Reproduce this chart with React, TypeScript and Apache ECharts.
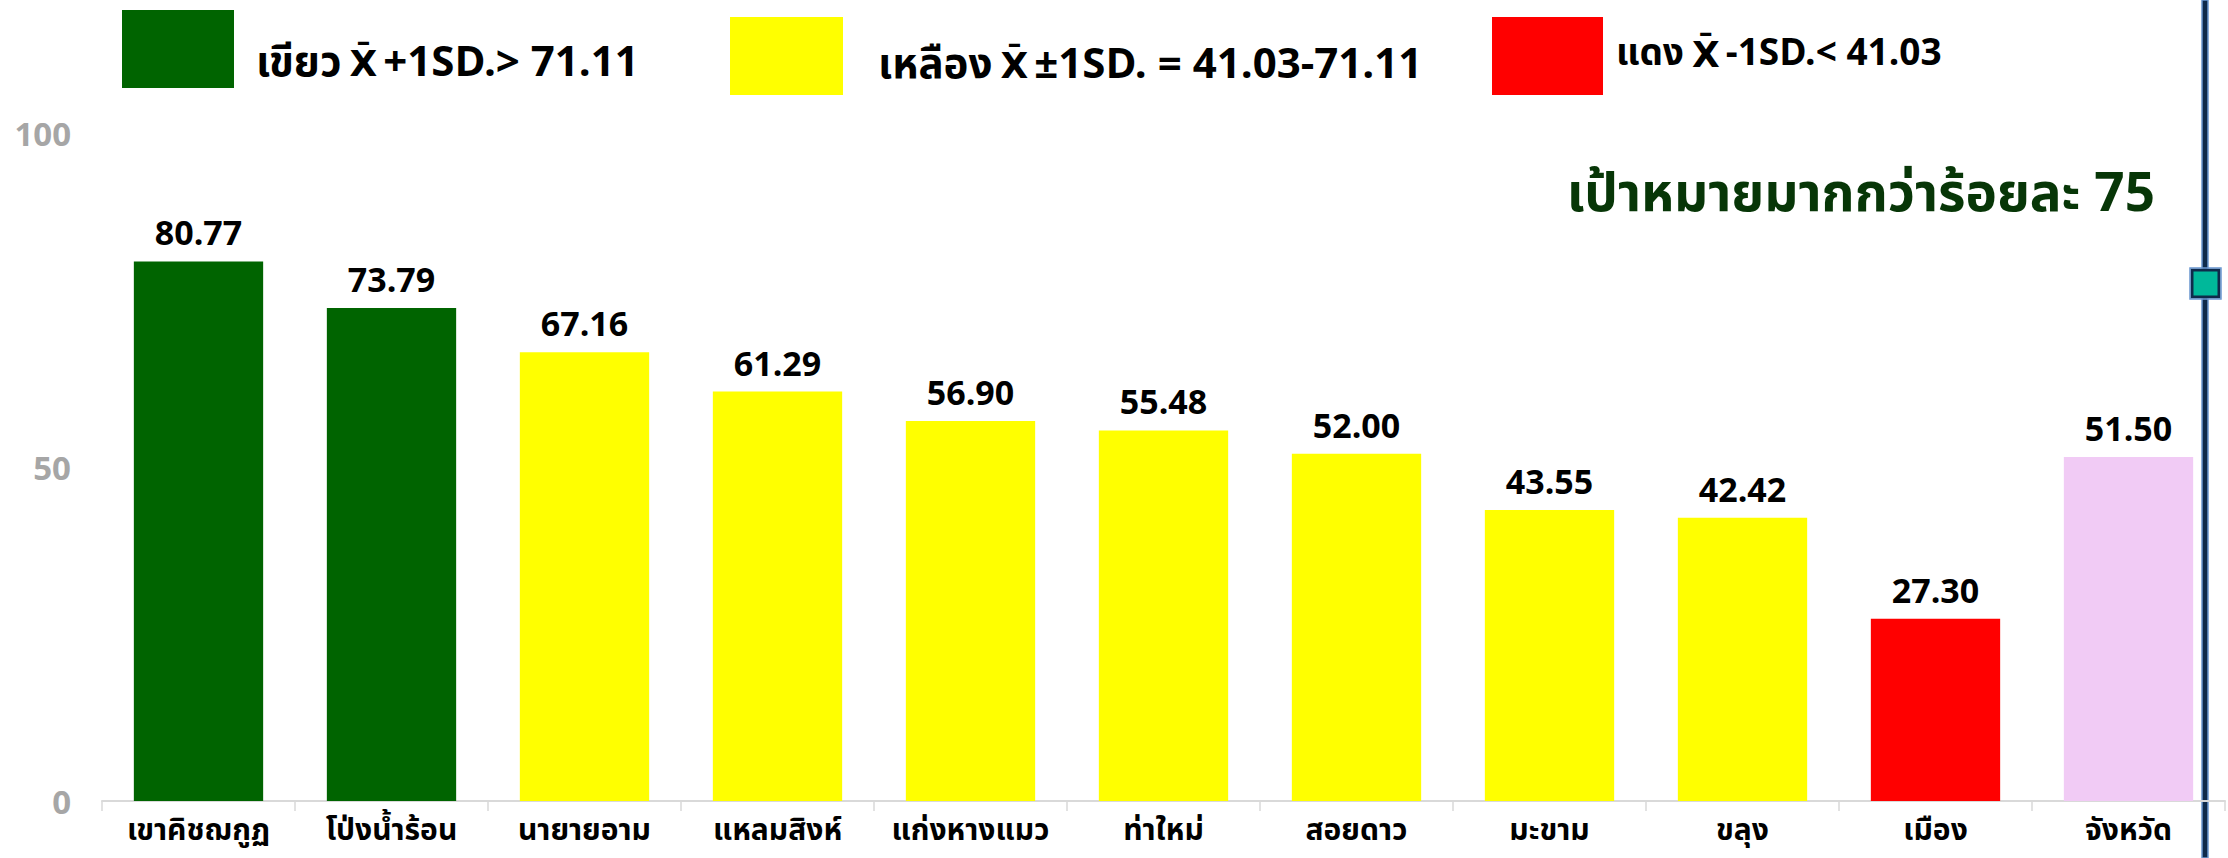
import React, { useEffect, useRef } from "react";
import * as echarts from "echarts";

const categories = ["เขาคิชฌกูฏ", "โป่งน้ำร้อน", "นายายอาม", "แหลมสิงห์", "แก่งหางแมว", "ท่าใหม่", "สอยดาว", "มะขาม", "ขลุง", "เมือง", "จังหวัด"];
const values = [80.77, 73.79, 67.16, 61.29, 56.9, 55.48, 52.0, 43.55, 42.42, 27.3, 51.5];
const levels = ["green", "green", "yellow", "yellow", "yellow", "yellow", "yellow", "yellow", "yellow", "red", "total"];
const yTicks = [0, 50, 100];
const legendNames = ["เขียว", "เหลือง", "แดง"];
const legendRules = ["+1SD.> 71.11", "±1SD. = 41.03-71.11", "-1SD.< 41.03"];
const targetText = "เป้าหมายมากกว่าร้อยละ 75";

const colorMap: Record<string, string> = {
  green: "#006400",
  yellow: "#FFFF00",
  red: "#FF0000",
  total: "#F1CBF5",
};

const THAI = '"Noto Sans Thai", "Tahoma", "Open Sans", "Noto Sans", sans-serif';
const NUM = '"Open Sans", "Noto Sans", sans-serif';

export default function App() {
  const ref = useRef<HTMLDivElement>(null);
  useEffect(() => {
    document.body.style.margin = "0";
    const chart = echarts.init(ref.current!, undefined, { renderer: "svg" });
    const makeRich = (size: number) => ({
      t: { fontFamily: THAI, fontWeight: "bold", fontSize: size, color: "#000" },
      x: { fontFamily: '"DejaVu Sans", sans-serif', fontWeight: "bold", fontSize: 36, color: "#000", padding: [0, 6, 0, 8] },
    });
    const legendText = (i: number, x: number, y: number, size: number) => ({
      type: "text",
      x,
      y,
      style: {
        text: `{t|${legendNames[i]}}{x|X\u0304}{t|${legendRules[i]}}`,
        rich: makeRich(size),
        textVerticalAlign: "middle",
      },
    });
    chart.setOption({
      animation: false,
      backgroundColor: "#fff",
      grid: { left: 102, right: 3, top: 133, bottom: 57, containLabel: false },
      xAxis: {
        type: "category",
        data: categories,
        axisLine: { show: true, lineStyle: { color: "#D9D9D9", width: 2 } },
        axisTick: { show: true, length: 10, lineStyle: { color: "#D9D9D9", width: 1.5 } },
        axisLabel: {
          interval: 0,
          color: "#000",
          fontFamily: THAI,
          fontWeight: "bold",
          fontSize: 30,
          margin: 15,
        },
      },
      yAxis: {
        type: "value",
        min: 0,
        max: 100,
        interval: 50,
        splitLine: { show: false },
        axisLine: { show: false },
        axisTick: { show: false },
        axisLabel: {
          color: "#A6A6A6",
          fontFamily: NUM,
          fontWeight: "bold",
          fontSize: 33,
          margin: 31,
          formatter: (v: number) => (yTicks.includes(v) ? String(v) : ""),
        },
      },
      series: [
        {
          type: "bar",
          barWidth: "67%",
          data: values.map((v, i) => ({ value: v, itemStyle: { color: colorMap[levels[i]] } })),
          label: {
            show: true,
            position: "top",
            distance: 12,
            color: "#000",
            fontFamily: NUM,
            fontWeight: "bold",
            fontSize: 34,
            lineHeight: 34,
            formatter: (p: any) => Number(p.value).toFixed(2),
          },
        },
      ],
      graphic: [
        { type: "rect", shape: { x: 122, y: 10, width: 112, height: 78 }, style: { fill: "#006400" } },
        legendText(0, 256, 63, 42),
        { type: "rect", shape: { x: 730, y: 17, width: 113, height: 78 }, style: { fill: "#FFFF00" } },
        legendText(1, 878, 65, 42),
        { type: "rect", shape: { x: 1492, y: 17, width: 111, height: 78 }, style: { fill: "#FF0000" } },
        legendText(2, 1616, 54, 37),
        {
          type: "text",
          x: 2155,
          y: 195,
          style: {
            text: targetText,
            fontFamily: THAI,
            fontWeight: "bold",
            fontSize: 53,
            fill: "#073607",
            textAlign: "right",
            textVerticalAlign: "middle",
          },
        },
        { type: "rect", shape: { x: 2202, y: 0, width: 6, height: 858 }, style: { fill: "#0F2A4A", stroke: "#6A97D0", lineWidth: 1.5 } },
        { type: "rect", shape: { x: 2192, y: 270, width: 27, height: 27 }, style: { fill: "#00B89A", stroke: "#0F2A4A", lineWidth: 3 } },
        { type: "rect", shape: { x: 2190, y: 268, width: 31, height: 31 }, style: { fill: "none", stroke: "#6A97D0", lineWidth: 1.5 } },
      ],
    });
    return () => chart.dispose();
  }, []);
  return <div ref={ref} style={{ position: "absolute", left: 0, top: 0, width: 2228, height: 858 }} />;
}
